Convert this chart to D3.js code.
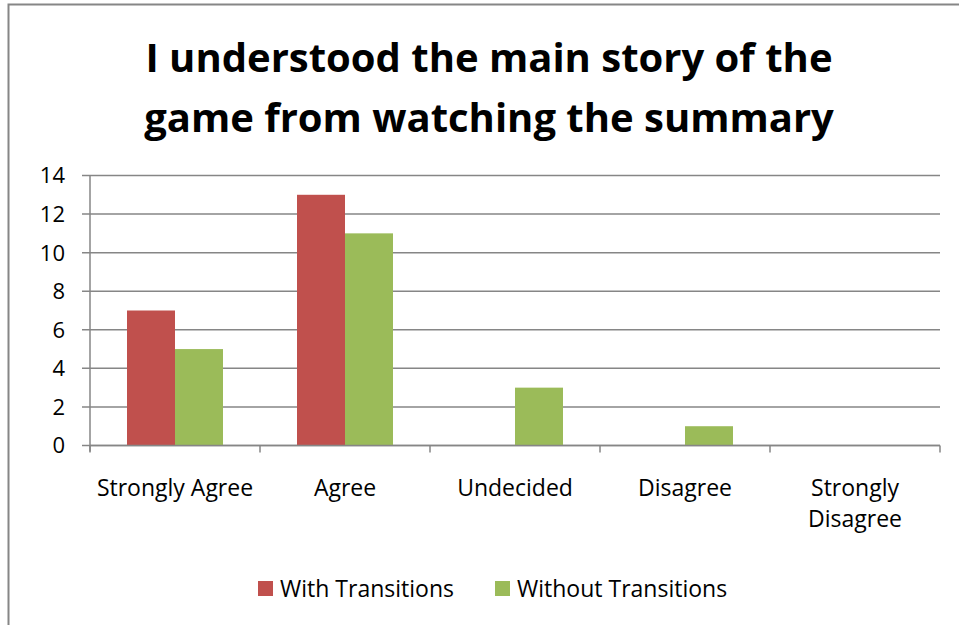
<!DOCTYPE html>
<html>
<head>
<meta charset="utf-8">
<script src="https://cdn.jsdelivr.net/npm/d3@7"></script>
<style>
  body { margin: 0; background: #fff; }
  svg { font-family: "Open Sans", "Noto Sans", sans-serif; }
</style>
</head>
<body>
<svg width="959" height="625"></svg>
<script>
var categories = ["Strongly Agree", "Agree", "Undecided", "Disagree", "Strongly Disagree"];
var seriesNames = ["With Transitions", "Without Transitions"];
var withTransitions = [7, 13, 0, 0, 0];
var withoutTransitions = [5, 11, 3, 1, 0];
var yTicks = [0, 2, 4, 6, 8, 10, 12, 14];
var titleLines = ["I understood the main story of the", "game from watching the summary"];

var colors = ["#C0504D", "#9BBB59"];

var svg = d3.select("svg"),
    margin = {top: 175.5, right: 19, bottom: 179.5, left: 90},
    width = svg.attr("width") - margin.left - margin.right,
    height = svg.attr("height") - margin.top - margin.bottom;

// chart border (right and bottom edges are off the picture)
svg.append("rect")
    .attr("x", 8.5).attr("y", 4.5)
    .attr("width", 1000).attr("height", 1000)
    .style("fill", "none")
    .style("stroke", "#868686")
    .style("stroke-width", 2);

svg.selectAll(".title")
  .data(titleLines)
  .enter().append("text")
    .attr("class", "title")
    .attr("x", 489)
    .attr("y", function(d, i) { return 72 + i * 60; })
    .attr("text-anchor", "middle")
    .style("font-weight", "bold")
    .style("font-size", "40px")
    .style("fill", "#000")
    .text(function(d) { return d; });

var g = svg.append("g").attr("transform", "translate(" + margin.left + "," + margin.top + ")");

var x0 = d3.scaleBand().domain(categories).range([0, width]).paddingInner(0).paddingOuter(0);
var x1 = d3.scaleBand().domain(seriesNames).range([37, x0.bandwidth() - 37]);
var y = d3.scaleLinear().domain([0, 14]).range([height, 0]);

// gridlines
g.append("g")
    .selectAll("line")
    .data(yTicks)
    .enter().append("line")
    .attr("x1", -8)
    .attr("x2", width)
    .attr("y1", function(d) { return y(d); })
    .attr("y2", function(d) { return y(d); })
    .style("stroke", "#868686")
    .style("stroke-width", 1.5);

// y tick labels
g.append("g")
    .selectAll("text")
    .data(yTicks)
    .enter().append("text")
    .attr("x", -25)
    .attr("y", function(d) { return y(d); })
    .attr("dy", "0.36em")
    .attr("text-anchor", "end")
    .style("font-size", "22px")
    .style("fill", "#000")
    .text(function(d) { return d; });

// y axis line
g.append("line")
    .attr("x1", 0).attr("x2", 0)
    .attr("y1", 0).attr("y2", height + 6)
    .style("stroke", "#868686")
    .style("stroke-width", 1.5);

// bars
var series = [withTransitions, withoutTransitions];
var cat = g.selectAll(".cat")
  .data(categories)
  .enter().append("g")
    .attr("class", "cat")
    .attr("transform", function(d) { return "translate(" + x0(d) + ",0)"; });

cat.selectAll("rect")
  .data(function(d, i) {
    return seriesNames.map(function(s, j) { return {name: s, value: series[j][i], k: j}; });
  })
  .enter().append("rect")
    .attr("x", function(d) { return x1(d.name); })
    .attr("width", x1.bandwidth())
    .attr("y", function(d) { return y(d.value); })
    .attr("height", function(d) { return height - y(d.value); })
    .style("fill", function(d) { return colors[d.k]; });

// x axis
g.append("line")
    .attr("x1", 0).attr("x2", width)
    .attr("y1", height).attr("y2", height)
    .style("stroke", "#868686")
    .style("stroke-width", 1.5);

var xTickPos = categories.map(function(c) { return x0(c); }).concat([width]);
g.append("g")
    .selectAll("line")
    .data(xTickPos)
    .enter().append("line")
    .attr("x1", function(d) { return d; })
    .attr("x2", function(d) { return d; })
    .attr("y1", height)
    .attr("y2", height + 7)
    .style("stroke", "#868686")
    .style("stroke-width", 1.5);

// category labels (wrap "Strongly Disagree")
g.append("g")
    .selectAll("text")
    .data(categories)
  .enter().append("text")
    .attr("text-anchor", "middle")
    .attr("transform", function(d) { return "translate(" + (x0(d) + x0.bandwidth() / 2) + "," + (height + 50) + ")"; })
    .style("font-size", "23px")
    .style("fill", "#000")
    .each(function(d, i) {
      var lines = (i === categories.length - 1) ? d.split(" ") : [d];
      var t = d3.select(this);
      lines.forEach(function(l, k) {
        t.append("tspan").attr("x", 0).attr("y", k * 31).text(l);
      });
    });

// legend
var legend = svg.append("g").selectAll("g")
  .data(seriesNames)
  .enter().append("g")
    .attr("transform", function(d, i) { return "translate(" + [258, 495][i] + ",581)"; });

legend.append("rect")
    .attr("width", 15).attr("height", 15)
    .style("fill", function(d, i) { return colors[i]; });

legend.append("text")
    .attr("x", 22)
    .attr("y", 7.5)
    .attr("dy", "0.36em")
    .style("font-size", "23px")
    .style("fill", "#000")
    .text(function(d) { return d; });
</script>
</body>
</html>
